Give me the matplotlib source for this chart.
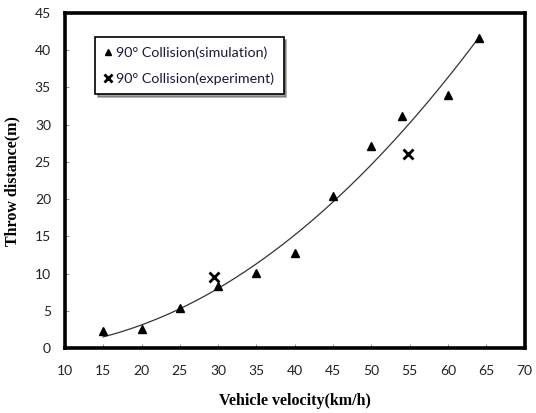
import numpy as np
import matplotlib
matplotlib.use("Agg")
import matplotlib.pyplot as plt

# Data
sim_velocity = [15, 20, 25, 30, 35, 40, 45, 50, 54, 60, 64]
sim_throw = [2.3, 2.6, 5.4, 8.4, 10.1, 12.8, 20.4, 27.1, 31.2, 34.0, 41.6]
exp_velocity = [29.4, 54.8]
exp_throw = [9.5, 26.1]
x_ticks = [10, 15, 20, 25, 30, 35, 40, 45, 50, 55, 60, 65, 70]
y_ticks = [0, 5, 10, 15, 20, 25, 30, 35, 40, 45]

fig = plt.figure(figsize=(5.36, 4.13), dpi=100)
ax = fig.add_axes([0.121, 0.157, 0.858, 0.8115])

# trend line (2nd order polynomial fitted to simulation data)
coef = np.polyfit(sim_velocity, sim_throw, 2)
xs = np.linspace(min(sim_velocity), max(sim_velocity), 200)
ax.plot(xs, np.polyval(coef, xs), color="#333333", lw=0.9, zorder=2)

ax.plot(sim_velocity, sim_throw, linestyle="none", marker="^", color="black",
        markersize=5.5, zorder=3, label="90° Collision(simulation)")
ax.plot(exp_velocity, exp_throw, linestyle="none", marker="x", color="black",
        markersize=6.5, markeredgewidth=2, zorder=4, label="90° Collision(experiment)")

ax.set_xlim(10, 70)
ax.set_ylim(0, 45)
ax.set_xticks(x_ticks)
ax.set_yticks(y_ticks)
ax.tick_params(axis="both", direction="in", length=3, color="#999999",
               labelsize=10, labelcolor="#222222", pad=12)
ax.tick_params(axis="y", pad=10)
for lab in ax.get_xticklabels() + ax.get_yticklabels():
    lab.set_fontfamily("Lato")

for sp in ax.spines.values():
    sp.set_linewidth(2.6)
    sp.set_color("black")

ax.set_xlabel("Vehicle velocity(km/h)", fontfamily="Liberation Serif",
              fontweight="bold", fontsize=11.5, labelpad=12)
ax.set_ylabel("Throw distance(m)", fontfamily="Liberation Serif",
              fontweight="bold", fontsize=11.5, labelpad=10)

leg = ax.legend(loc="upper left", bbox_to_anchor=(0.065, 0.928), borderaxespad=0,
                frameon=True, fancybox=False, shadow=True, edgecolor="black",
                prop={"family": "Lato", "size": 10.3}, handlelength=0.6,
                handletextpad=0.25, labelspacing=0.95, borderpad=0.65,
                markerscale=0.8)
leg.get_frame().set_linewidth(1.2)
for t in leg.get_texts():
    t.set_color("#1a1a3a")

fig.savefig("out.png", dpi=100)
